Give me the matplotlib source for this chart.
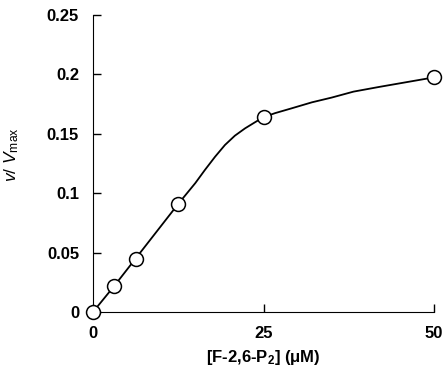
import matplotlib
matplotlib.use('Agg')
import matplotlib.pyplot as plt

plt.rcParams['font.family'] = ['Liberation Sans', 'DejaVu Sans']
plt.rcParams['mathtext.fontset'] = 'custom'
plt.rcParams['mathtext.rm'] = 'Liberation Sans'
plt.rcParams['mathtext.it'] = 'Liberation Sans:italic'
plt.rcParams['mathtext.bf'] = 'Liberation Sans:bold'

# measured points
conc = [0, 3.125, 6.25, 12.5, 25, 50]          # [F-2,6-P2] (uM)
rate = [0, 0.022, 0.045, 0.091, 0.164, 0.1975]  # v/Vmax

# fitted curve
fit_x = [0, 3.125, 6.25, 12.5, 13.5, 15, 16.4, 17.9, 19.35, 20.8, 22.3,
         23.75, 25, 26.7, 29.1, 32.1, 35, 38.2, 42, 45.5, 50]
fit_y = [0, 0.022, 0.045, 0.091, 0.098, 0.1085, 0.1195, 0.1307, 0.1406,
         0.1484, 0.1546, 0.1597, 0.164, 0.1674, 0.1714, 0.1765, 0.1805,
         0.1855, 0.1895, 0.193, 0.1975]

xticks = [0, 25, 50]
yticks = [0, 0.05, 0.1, 0.15, 0.2, 0.25]

fig = plt.figure(figsize=(4.47, 3.73), dpi=100)
ax = fig.add_axes((93/447, 1-312/373, 341/447, 297/373))

ax.plot(fit_x, fit_y, color='black', lw=1.3, zorder=2)
ax.plot(conc, rate, 'o', ms=10, mfc='white', mec='black', mew=1.1,
        clip_on=False, zorder=3)

ax.set_xlim(0, 50)
ax.set_ylim(0, 0.25)
ax.set_xticks(xticks)
ax.set_yticks(yticks)
ax.set_xticklabels([str(t) for t in xticks])
ax.set_yticklabels(['%g' % t for t in yticks])
ax.spines['top'].set_visible(False)
ax.spines['right'].set_visible(False)
ax.tick_params(direction='in', length=6, width=1, pad=10, labelsize=12)
for lab in ax.get_xticklabels() + ax.get_yticklabels():
    lab.set_fontweight('bold')

ax.set_xlabel(r'[F-2,6-P$_\mathbf{2}$] (μM)', fontsize=12, fontweight='bold')
ax.xaxis.set_label_coords(0.5, -0.12)
ax.set_ylabel(r'$\mathit{v}$/ $\mathit{V}_{\mathrm{max}}$', fontsize=12.5)
ax.yaxis.set_label_coords(-0.21, 0.53)

fig.savefig('out.png', dpi=100)
